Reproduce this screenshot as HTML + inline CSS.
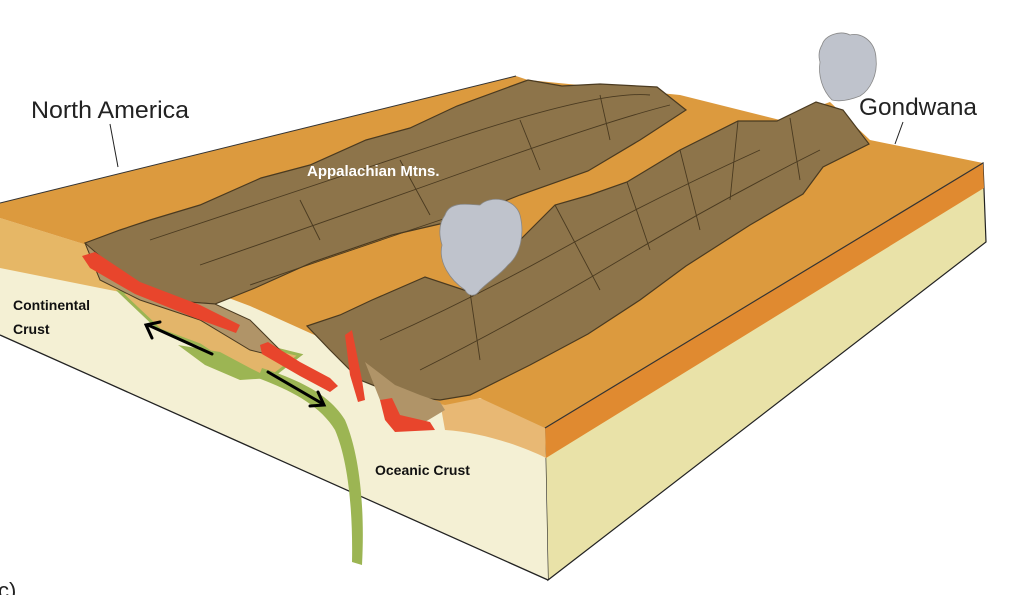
<!DOCTYPE html>
<html><head><meta charset="utf-8"><style>
html,body{margin:0;padding:0;background:#fff;}
svg{display:block;}
</style></head><body>
<svg width="1024" height="595" viewBox="0 0 1024 595" xmlns="http://www.w3.org/2000/svg" font-family="Liberation Sans, sans-serif">
<!-- right face -->
<polygon points="983,163 986,242 548,580 545,428" fill="#e9e2a8" stroke="#222" stroke-width="1.2"/>
<polygon points="983,163 984,188 546,458 545,428" fill="#e08a30"/>
<!-- left face -->
<polygon points="0,218 90,246 250,306 330,342 400,396 445,405 480,398 545,428 548,580 0,335" fill="#f4f0d4"/>
<line x1="0" y1="335" x2="548" y2="580" stroke="#222" stroke-width="1.3"/>
<!-- left orange strip -->
<polygon points="0,218 90,246 140,268 200,292 180,305 120,292 0,268" fill="#e6b766"/>
<!-- continental crust block -->
<path d="M120,292 L170,296 L230,315 L260,345 L300,355 L270,378 L240,372 L200,345 L160,330 Z" fill="#e3b56a" stroke="#9cb553" stroke-width="3"/>
<path d="M178,345 L220,352 L250,368 L270,378 L240,380 L205,365 Z" fill="#9cb553"/>
<!-- green slab -->
<path d="M262,368 C300,380 330,395 345,420 C360,455 365,510 362,565 L352,562 C353,510 348,460 335,430 C320,405 290,390 258,378 Z" fill="#9cb553"/>
<!-- Gondwana cross section bump -->
<path d="M440,402 C470,390 500,400 545,428 L546,458 C520,445 480,432 445,430 Z" fill="#e8b874"/>
<!-- top surface -->
<polygon points="0,203 516,76 528,80 680,95 780,120 830,102 870,140 983,163 545,428 480,398 445,405 400,396 330,342 250,306 90,246 0,218" fill="#dc9a3e"/>
<line x1="0" y1="203" x2="516" y2="76" stroke="#333" stroke-width="1"/>
<line x1="983" y1="163" x2="545" y2="428" stroke="#333" stroke-width="1.2"/>
<!-- ridge 1 -->
<path d="M85,243 L120,230 L150,220 L200,205 L261,178 L310,165 L366,140 L410,128 L457,106 L528,80 L562,86 L600,84 L657,87 L686,110 L640,140 L588,171 L520,195 L457,220 L392,235 L313,262 L255,288 L215,304 L160,300 L110,270 Z" fill="#8d744a" stroke="#4a3a20" stroke-width="1.2"/>
<path d="M150,240 Q300,190 450,140 T650,95 M200,265 Q330,220 470,170 T670,105 M250,285 Q380,240 500,200 M300,200 L320,240 M400,160 L430,215 M520,120 L540,170 M600,95 L610,140" fill="none" stroke="#4a3a20" stroke-width="0.9"/>
<!-- ridge 1 front cross section -->
<path d="M85,243 L110,265 L160,300 L215,304 L250,320 L275,345 L290,360 L250,350 L200,320 L140,300 L100,280 Z" fill="#b09468" stroke="#4a3a20" stroke-width="1"/>
<path d="M82,256 L95,252 L140,282 L200,305 L240,325 L236,333 L195,318 L135,294 L90,268 Z" fill="#e8452c"/>
<!-- ridge 2 -->
<path d="M307,326 L340,315 L372,300 L425,277 L470,292 L510,250 L555,205 L590,195 L627,182 L680,150 L738,121 L777,121 L816,102 L843,110 L869,144 L823,167 L803,194 L750,225 L686,266 L640,300 L588,334 L530,365 L470,395 L440,400 L400,396 L360,380 L330,350 Z" fill="#8d744a" stroke="#4a3a20" stroke-width="1.2"/>
<path d="M380,340 Q470,300 560,250 T760,150 M420,370 Q520,320 620,260 T820,150 M470,292 L480,360 M555,205 L600,290 M627,182 L650,250 M738,121 L730,200 M680,150 L700,230 M790,118 L800,180" fill="none" stroke="#4a3a20" stroke-width="0.9"/>
<!-- red near ridge2 -->
<path d="M260,345 L268,342 L300,362 L330,378 L338,386 L330,392 L300,376 L262,354 Z" fill="#e8452c"/>
<path d="M345,335 L352,330 L356,350 L362,380 L365,400 L358,402 L350,375 Z" fill="#e8452c"/>
<path d="M365,362 L395,385 L420,395 L440,402 L445,410 L420,425 L400,420 L380,400 Z" fill="#b09468"/>
<path d="M380,400 L392,398 L400,415 L430,422 L435,430 L395,432 L385,420 Z" fill="#e8452c"/>
<!-- plumes -->
<path d="M445,215 C450,200 470,205 480,205 C490,195 515,198 520,215 C525,235 520,255 508,265 C500,275 490,280 480,290 C475,298 468,296 465,290 C450,280 438,262 442,245 C438,232 440,222 445,215 Z" fill="#bfc3cc" stroke="#888" stroke-width="0.8"/>
<path d="M822,45 C825,35 840,30 850,35 C860,32 875,40 876,58 C878,75 870,90 860,96 C850,100 840,102 832,100 C822,90 818,75 820,62 C818,55 819,50 822,45 Z" fill="#bfc3cc" stroke="#888" stroke-width="0.8"/>
<!-- arrows -->
<g stroke="#000" stroke-width="3" fill="none" stroke-linecap="round">
<line x1="212" y1="354" x2="148" y2="325"/>
<polyline points="160,322 146,325 152,338"/>
<line x1="268" y1="372" x2="323" y2="404"/>
<polyline points="310,406 324,405 318,392"/>
</g>
<!-- leader lines -->
<line x1="110" y1="124" x2="118" y2="167" stroke="#222" stroke-width="1"/>
<line x1="903" y1="122" x2="895" y2="144" stroke="#222" stroke-width="1"/>
<!-- labels -->
<text x="31" y="118" font-size="24" fill="#222" textLength="158" lengthAdjust="spacingAndGlyphs">North America</text>
<text x="859" y="115" font-size="24" fill="#222" textLength="118" lengthAdjust="spacingAndGlyphs">Gondwana</text>
<text x="307" y="176" font-size="15" font-weight="bold" fill="#fff">Appalachian Mtns.</text>
<text x="13" y="310" font-size="14" font-weight="bold" fill="#111">Continental</text>
<text x="13" y="334" font-size="14" font-weight="bold" fill="#111">Crust</text>
<text x="375" y="475" font-size="14" font-weight="bold" fill="#111">Oceanic Crust</text>
<text x="-2" y="598" font-size="22" fill="#222">c)</text>
</svg>
</body></html>
